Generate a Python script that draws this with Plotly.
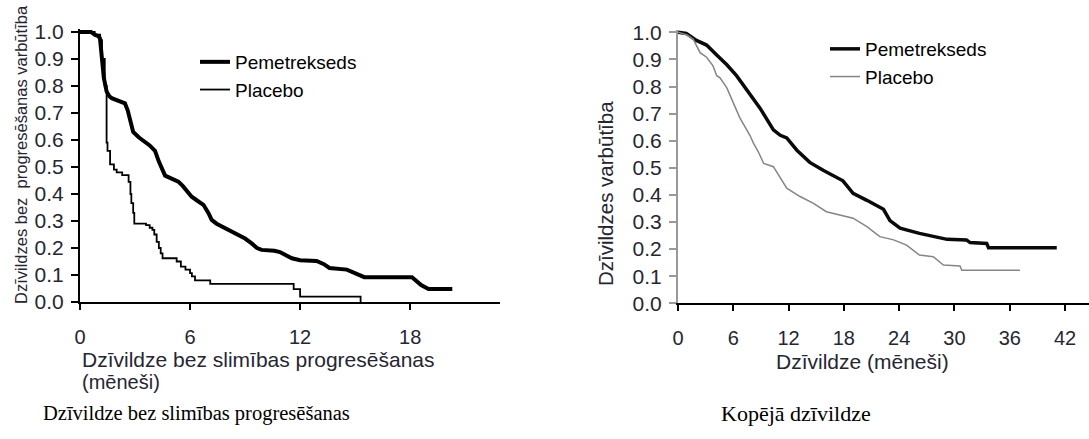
import plotly.graph_objects as go

W, H = 1089, 439

# ---------------- Data: progression-free survival (left) ----------------
pfs_pem_t = [0, 0.6, 0.8, 1.0, 1.09, 1.15, 1.18, 1.3, 1.45, 1.6, 1.73, 2.1, 2.45, 2.6, 2.73, 2.9,
             3.2, 3.55, 3.8, 4.09, 4.3, 4.64, 5.0, 5.36, 5.6, 5.8, 6.09, 6.4, 6.73, 7.0, 7.18, 7.45,
             7.73, 8.2, 8.64, 9.0, 9.36, 9.65, 9.9, 10.6, 10.9, 11.55, 12.0, 12.9, 13.3, 13.6, 14.55,
             14.9, 15.2, 15.5, 18.1, 18.4, 18.6, 19.0, 20.3]
pfs_pem_s = [1.0, 1.0, 0.99, 0.985, 0.976, 0.94, 0.90, 0.83, 0.78, 0.762, 0.755, 0.745, 0.736, 0.71,
             0.68, 0.63, 0.61, 0.595, 0.58, 0.56, 0.52, 0.468, 0.455, 0.446, 0.43, 0.415, 0.39, 0.375,
             0.36, 0.33, 0.304, 0.29, 0.28, 0.265, 0.248, 0.235, 0.217, 0.20, 0.193, 0.19, 0.185,
             0.162, 0.155, 0.152, 0.14, 0.126, 0.12, 0.11, 0.10, 0.092, 0.092, 0.075, 0.063, 0.048, 0.048]

pfs_pla_t = [0, 0.8, 1.1, 1.2, 1.35, 1.45, 1.5, 1.64, 1.85, 2.0, 2.3, 2.65, 2.75, 2.8, 2.9, 2.96,
             3.6, 3.8, 3.95, 4.05, 4.18, 4.3, 4.4, 4.5, 5.27, 5.5, 5.75, 6.0, 6.1, 6.27, 7.1, 11.65,
             12.0, 15.3]
pfs_pla_s = [1.0, 0.99, 0.97, 0.90, 0.80, 0.59, 0.56, 0.51, 0.49, 0.48, 0.47, 0.445, 0.40, 0.366,
             0.33, 0.29, 0.285, 0.275, 0.267, 0.25, 0.223, 0.20, 0.18, 0.162, 0.15, 0.131, 0.12,
             0.107, 0.095, 0.08, 0.067, 0.048, 0.02, 0.0]

# ---------------- Data: overall survival (right) ----------------
os_pem_t = [0, 0.9, 2.0, 3.1, 4.2, 5.3, 6.35, 7.45, 8.9, 10.35, 11.1, 11.8, 12.9, 14.3, 15.4, 15.8,
            17.9, 19.0, 20.5, 20.8, 22.3, 23.0, 24.1, 26.2, 28.1, 29.2, 31.3, 31.7, 33.5, 33.7, 41.1]
os_pem_s = [1.0, 0.996, 0.97, 0.953, 0.916, 0.88, 0.84, 0.79, 0.72, 0.64, 0.62, 0.61, 0.565, 0.52,
            0.498, 0.49, 0.452, 0.406, 0.38, 0.375, 0.347, 0.305, 0.277, 0.258, 0.245, 0.236, 0.234,
            0.224, 0.221, 0.205, 0.205]

os_pla_t = [0, 1.0, 1.66, 2.0, 2.4, 3.1, 3.8, 4.2, 4.56, 5.3, 6.0, 6.7, 7.8, 8.2, 8.7, 9.3, 10.35,
            11.25, 11.8, 13.2, 14.7, 16.1, 17.6, 19.0, 20.5, 21.9, 23.4, 24.8, 26.2, 27.7, 28.8,
            30.6, 30.8, 37.1]
os_pla_s = [1.0, 0.99, 0.974, 0.95, 0.925, 0.908, 0.876, 0.84, 0.832, 0.795, 0.74, 0.685, 0.62,
            0.59, 0.56, 0.516, 0.504, 0.455, 0.425, 0.395, 0.369, 0.338, 0.326, 0.314, 0.283, 0.246,
            0.234, 0.215, 0.178, 0.172, 0.141, 0.138, 0.122, 0.122]

series_names = ["Pemetrekseds", "Placebo"]
y_ticks = [0.0, 0.1, 0.2, 0.3, 0.4, 0.5, 0.6, 0.7, 0.8, 0.9, 1.0]
x_ticks_left = [0, 6, 12, 18]
x_ticks_right = [0, 6, 12, 18, 24, 30, 36, 42]

left_xtitle = "Dzīvildze bez slimības progresēšanas"
left_xtitle2 = "(mēneši)"
left_ytitle = "Dzīvildzes bez  progresēšanas varbūtība"
right_xtitle = "Dzīvildze (mēneši)"
right_ytitle = "Dzīvildzes varbūtība"
caption_left = "Dzīvildze bez slimības progresēšanas"
caption_right = "Kopējā dzīvildze"

SANS = "Arial, Liberation Sans, sans-serif"
SERIF = "Times New Roman, Liberation Serif, serif"
TXT = "#262633"


def px_x(p):
    return p / W


def px_y(p):
    return 1 - p / H


fig = go.Figure()

fig.add_trace(go.Scatter(x=pfs_pem_t, y=pfs_pem_s, mode="lines", name=series_names[0],
                         line=dict(color="#000000", width=4), xaxis="x", yaxis="y", legend="legend"))
fig.add_trace(go.Scatter(x=pfs_pla_t, y=pfs_pla_s, mode="lines", name=series_names[1],
                         line=dict(color="#000000", width=1.8, shape="hv"), xaxis="x", yaxis="y",
                         legend="legend"))
fig.add_trace(go.Scatter(x=os_pem_t, y=os_pem_s, mode="lines", name=series_names[0],
                         line=dict(color="#0a0a0a", width=3.5), xaxis="x2", yaxis="y2", legend="legend2"))
fig.add_trace(go.Scatter(x=os_pla_t, y=os_pla_s, mode="lines", name=series_names[1],
                         line=dict(color="#858585", width=1.5), xaxis="x2", yaxis="y2", legend="legend2"))

xtickfont = dict(family=SANS, size=20, color=TXT)
ytickfont = dict(family=SANS, size=21, color=TXT)

common_x = dict(showgrid=False, zeroline=False, showline=True, linewidth=2, ticks="outside",
                ticklen=6, tickwidth=1.5, tickfont=xtickfont, ticklabelstandoff=10, automargin=False)
common_y = dict(showgrid=False, zeroline=False, showline=True, linewidth=2, ticks="outside",
                ticklen=7, tickwidth=1.5, tickfont=ytickfont, tickvals=y_ticks, tickformat=".1f",
                ticklabelstandoff=3, automargin=False)

fig.update_layout(
    width=W, height=H,
    margin=dict(l=0, r=0, t=0, b=0, pad=0, autoexpand=False),
    paper_bgcolor="white", plot_bgcolor="white",
    xaxis=dict(common_x, domain=[px_x(80), px_x(500)], range=[0, 22.9], tickvals=x_ticks_left,
               linecolor="#000", tickcolor="#000", anchor="y"),
    yaxis=dict(common_y, domain=[px_y(302), px_y(29.3)], range=[0, 1.01], linecolor="#000",
               tickcolor="#000", anchor="x"),
    xaxis2=dict(common_x, domain=[px_x(678), 1.0], range=[0, 44.6], tickvals=x_ticks_right,
                linecolor="#000", tickcolor="#000", anchor="y2"),
    yaxis2=dict(common_y, domain=[px_y(303.3), px_y(29.6)], range=[0, 1.01], linecolor="#999",
                tickcolor="#999", anchor="x2"),
    legend=dict(x=px_x(195), y=px_y(43), xanchor="left", yanchor="top",
                font=dict(family=SANS, size=19, color="#000"), bgcolor="rgba(0,0,0,0)",
                tracegroupgap=0),
    legend2=dict(x=px_x(825), y=px_y(30), xanchor="left", yanchor="top",
                 font=dict(family=SANS, size=19, color="#000"), bgcolor="rgba(0,0,0,0)",
                 tracegroupgap=0),
)

annos = [
    dict(text=left_xtitle, x=px_x(80), y=px_y(359.5), xanchor="left", yanchor="middle",
         font=dict(family=SANS, size=21, color=TXT)),
    dict(text=left_xtitle2, x=px_x(80), y=px_y(382), xanchor="left", yanchor="middle",
         font=dict(family=SANS, size=20, color=TXT)),
    dict(text=left_ytitle, x=px_x(21), y=px_y(155), xanchor="center", yanchor="middle",
         textangle=-90, font=dict(family=SANS, size=16.5, color=TXT)),
    dict(text=right_xtitle, x=px_x(862), y=px_y(361), xanchor="center", yanchor="middle",
         font=dict(family=SANS, size=21, color=TXT)),
    dict(text=right_ytitle, x=px_x(605), y=px_y(194), xanchor="center", yanchor="middle",
         textangle=-90, font=dict(family=SANS, size=20.5, color=TXT)),
    dict(text=caption_left, x=px_x(196), y=px_y(413), xanchor="center", yanchor="middle",
         font=dict(family=SERIF, size=20.5, color="#000")),
    dict(text=caption_right, x=px_x(796), y=px_y(413), xanchor="center", yanchor="middle",
         font=dict(family=SERIF, size=22, color="#000")),
]
for a in annos:
    a.update(xref="paper", yref="paper", showarrow=False)
fig.update_layout(annotations=annos)

fig.write_html("out.html",
               config={"displayModeBar": False},
               post_script="document.body.style.margin='0px';document.body.style.padding='0px';")
